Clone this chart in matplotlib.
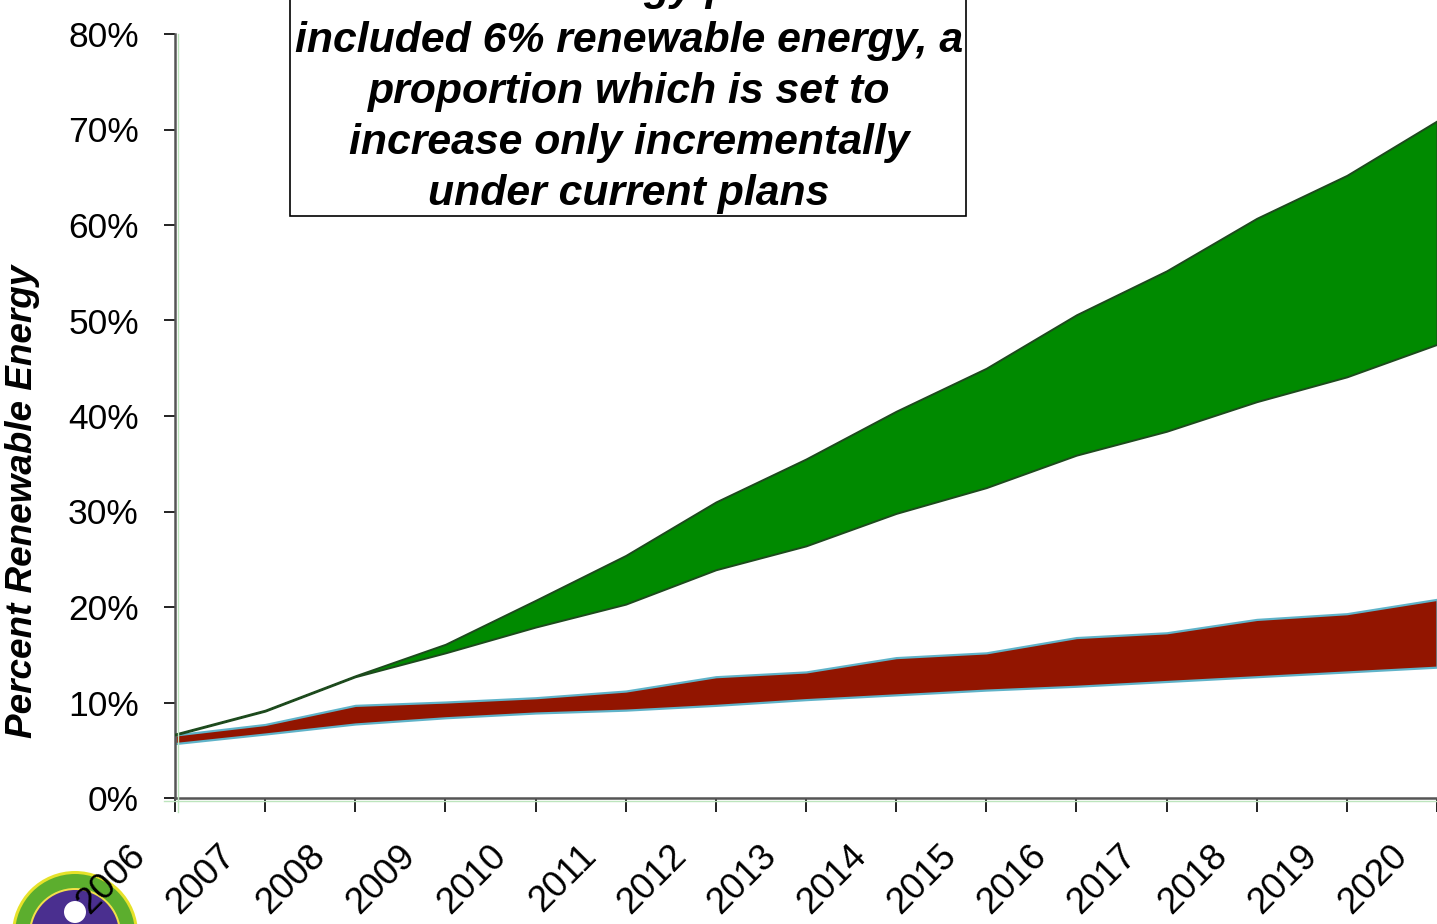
import matplotlib
matplotlib.use("Agg")
import matplotlib.pyplot as plt
from matplotlib.patches import Rectangle, Circle
from matplotlib.lines import Line2D
from matplotlib.transforms import ScaledTranslation
from matplotlib.ticker import FuncFormatter

plt.rcParams["font.family"] = ["Liberation Sans", "DejaVu Sans"]

# ── Data (percent of national energy from renewables) ─────────────
years      = [2006, 2007, 2008, 2009, 2010, 2011, 2012, 2013,
              2014, 2015, 2016, 2017, 2018, 2019, 2020]
red_low    = [5.7, 6.7, 7.75, 8.4, 8.9, 9.2, 9.7, 10.3,
              10.8, 11.3, 11.7, 12.2, 12.7, 13.2, 13.7]
red_high   = [6.6, 7.7, 9.7, 10.05, 10.5, 11.2, 12.7, 13.2,
              14.7, 15.2, 16.8, 17.3, 18.7, 19.3, 20.8]
green_low  = [6.6, 9.1, 12.7, 15.2, 17.9, 20.3, 23.9, 26.4,
              29.8, 32.5, 35.9, 38.4, 41.5, 44.1, 47.5]
green_high = [6.7, 9.2, 12.8, 16.1, 20.7, 25.4, 31.0, 35.5,
              40.5, 45.0, 50.6, 55.2, 60.7, 65.2, 70.9]
y_ticks    = [0, 10, 20, 30, 40, 50, 60, 70, 80]

note = ("national energy portfolio\n"
        "included 6% renewable energy, a\n"
        "proportion which is set to\n"
        "increase only incrementally\n"
        "under current plans")

W, H = 1437, 924
fig = plt.figure(figsize=(W / 100, H / 100), dpi=100)
ax = fig.add_axes([175 / W, 1 - 798 / H, 1 - 175 / W, (798 - 34) / H])

# ── Bands ─────────────────────────────────────────────────────────
ax.fill_between(years, red_low, red_high, facecolor="#921500",
                edgecolor="#5fb3c9", linewidth=1.6, zorder=2)
ax.fill_between(years, green_low, green_high, facecolor="#008a00",
                edgecolor="#1d4a1d", linewidth=1.4, zorder=3)

ax.set_xlim(2006, 2020)
ax.set_ylim(0, 80)
ax.set_yticks(y_ticks)
ax.yaxis.set_major_formatter(FuncFormatter(lambda v, _: f"{v:.0f}%"))
ax.set_xticks(years)
ax.set_xticklabels([])

# year labels, set a little left of their ticks
shift = ScaledTranslation(-0.35, -0.53, fig.dpi_scale_trans)
for y in years:
    ax.text(y, 0, str(y), transform=ax.get_xaxis_transform() + shift,
            rotation=45, rotation_mode="anchor", ha="right", va="center",
            fontsize=26.5, clip_on=False)

ax.tick_params(axis="y", direction="out", length=8, width=1.4,
               labelsize=25.5, pad=18, color="#222222")
ax.tick_params(axis="x", direction="out", length=10, width=1.4,
               color="#222222")

for side in ("top", "right"):
    ax.spines[side].set_visible(False)
for side in ("left", "bottom"):
    ax.spines[side].set_color("#555555")
    ax.spines[side].set_linewidth(1.8)

fig.text(23 / W, 1 - 501 / H, "Percent Renewable Energy", rotation=90,
         ha="center", va="center", fontsize=26.6, fontweight="bold",
         fontstyle="italic")

# faint secondary axis lines just inside the main spines
fig.add_artist(Line2D([178 / W, 178 / W], [1 - 812 / H, 1 - 34 / H],
                      color="#bde5bd", lw=1.0))
fig.add_artist(Line2D([164 / W, 1.0], [1 - 801 / H, 1 - 801 / H],
                      color="#bde5bd", lw=1.0))

# ── Note box ──────────────────────────────────────────────────────
fig.add_artist(Rectangle((290 / W, 1 - 216 / H), 676 / W, 0.4,
                         transform=fig.transFigure, facecolor="white",
                         edgecolor="black", linewidth=1.2, zorder=5))
fig.text(629 / W, 1 - 214 / H, note, ha="center", va="bottom",
         multialignment="center", fontsize=30.8, fontweight="bold",
         fontstyle="italic", linespacing=1.36, zorder=6)

# ── Seal in the lower-left corner (behind the year labels) ────────
cx, cy = 0.75, (H - 934) / 100
for r, col in [(0.63, "#e6e22a"), (0.60, "#5cae2e"), (0.46, "#f2e04a"),
               (0.44, "#4a2f8f")]:
    fig.add_artist(Circle((cx, cy), r, transform=fig.dpi_scale_trans,
                          facecolor=col, edgecolor="none", zorder=-2))
fig.add_artist(Circle((cx, cy + 0.22), 0.11, transform=fig.dpi_scale_trans,
                      facecolor="white", edgecolor="none", zorder=-1))

fig.savefig("out.png", dpi=100)
